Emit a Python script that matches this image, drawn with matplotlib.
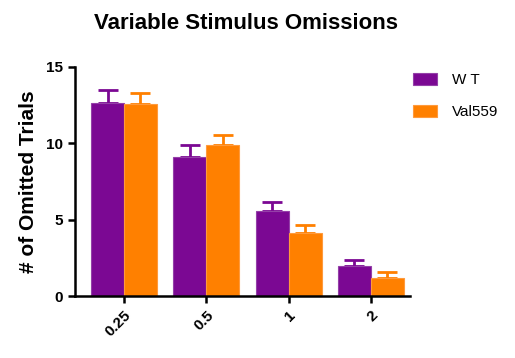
import matplotlib.pyplot as plt
import numpy as np

plt.rcParams['font.family'] = ['Liberation Sans', 'DejaVu Sans']

categories = ['0.25', '0.5', '1', '2']
wt_mean = [12.62, 9.08, 5.55, 1.98]
wt_sem = [0.88, 0.81, 0.61, 0.36]
val_mean = [12.55, 9.87, 4.10, 1.18]
val_sem = [0.75, 0.67, 0.57, 0.37]

purple = '#7B0893'
orange = '#FF8000'

fig = plt.figure(figsize=(5.15, 3.58), dpi=100)
ax = fig.add_axes([75 / 515, 62 / 358, 335 / 515, 229 / 358])

x = np.arange(len(categories))
w = 0.4
ax.bar(x - w / 2, wt_mean, width=w, color=purple, edgecolor='#9440A8', linewidth=0.8,
       label='W T', zorder=2)
ax.bar(x + w / 2, val_mean, width=w, color=orange, edgecolor='#FF9A3C', linewidth=0.8,
       label='Val559', zorder=2)
ax.errorbar(x - w / 2, wt_mean, yerr=[np.zeros(4), wt_sem], fmt='none',
            ecolor=purple, elinewidth=2, capsize=7, capthick=2, zorder=1)
ax.errorbar(x + w / 2, val_mean, yerr=[np.zeros(4), val_sem], fmt='none',
            ecolor=orange, elinewidth=2, capsize=7, capthick=2, zorder=1)

ax.set_xlim(-0.595, 3.475)
ax.set_ylim(0, 15)
ax.set_yticks([0, 5, 10, 15])
ax.set_xticks(x)
ax.set_xticklabels(categories, rotation=45, ha='right', rotation_mode='anchor',
                   fontweight='bold', fontsize=11)
for lbl in ax.get_yticklabels():
    lbl.set_fontweight('bold')
    lbl.set_fontsize(11)

for s in ['top', 'right']:
    ax.spines[s].set_visible(False)
for s in ['left', 'bottom']:
    ax.spines[s].set_linewidth(1.8)
ax.tick_params(width=1.8, length=5)

ax.set_ylabel('# of Omitted Trials', fontweight='bold', fontsize=15, labelpad=6)
fig.text(0.478, 0.935, 'Variable Stimulus Omissions', ha='center', va='center',
         fontweight='bold', fontsize=16)

ax.legend(loc='upper left', bbox_to_anchor=(0.99, 1.0), frameon=False, borderaxespad=0,
          handlelength=1.57, handleheight=0.8, handletextpad=1.0, labelspacing=1.15,
          fontsize=11)

fig.savefig('out.png', dpi=100)
